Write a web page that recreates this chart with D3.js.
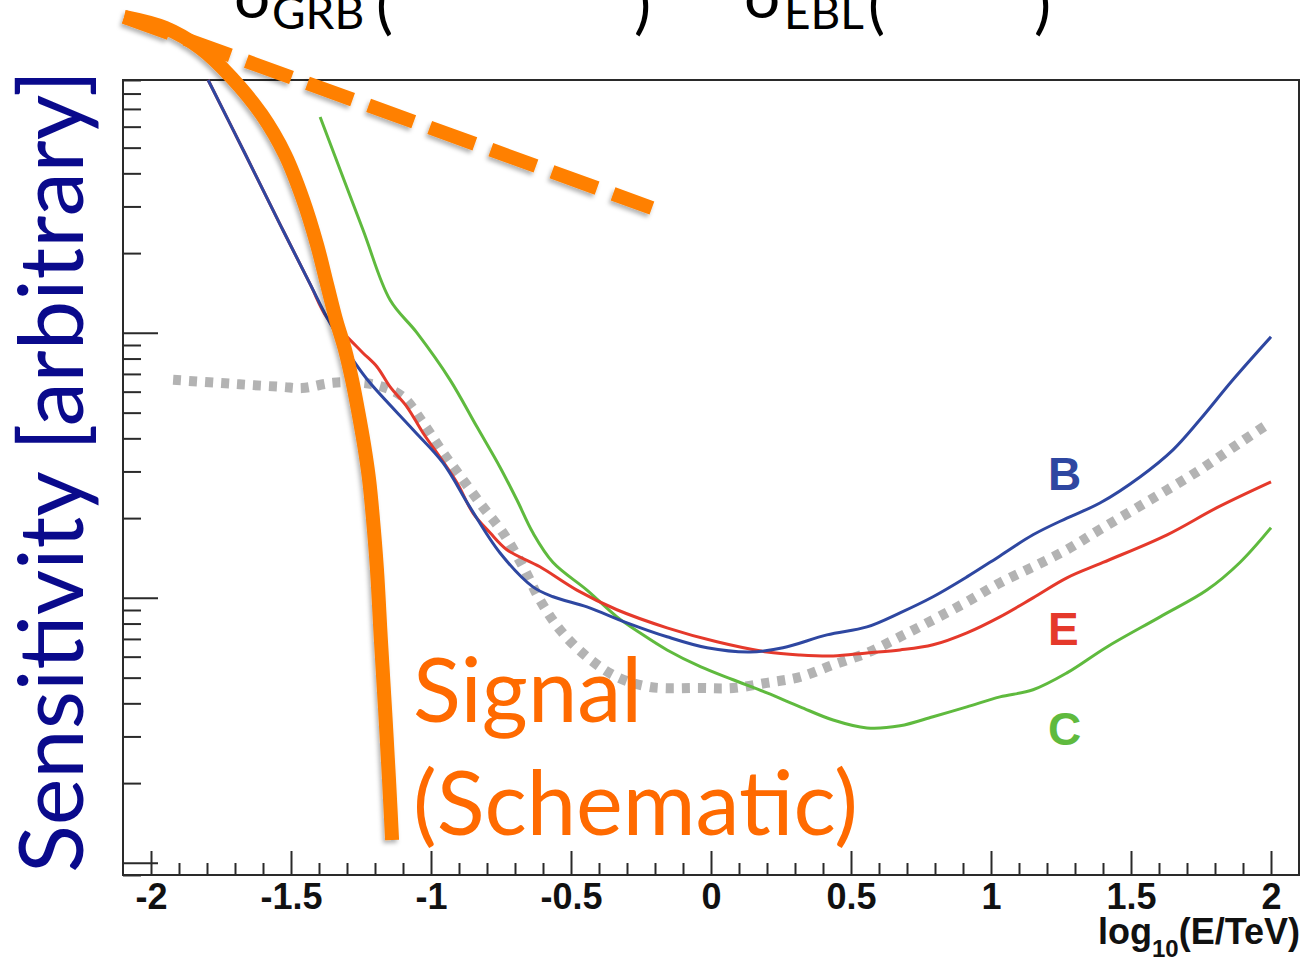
<!DOCTYPE html>
<html>
<head>
<meta charset="utf-8">
<script src="https://cdn.jsdelivr.net/npm/d3@7"></script>
<style>
  html, body { margin: 0; padding: 0; background: #fff; overflow: hidden; }
</style>
</head>
<body>
<svg id="chart" width="1304" height="960"></svg>
<script>
// x = log10(E/TeV), y = sensitivity (arbitrary units, log axis)
const xMajorTicks = [-2, -1.5, -1, -0.5, 0, 0.5, 1, 1.5, 2];
const xTickLabels = ["-2", "-1.5", "-1", "-0.5", "0", "0.5", "1", "1.5", "2"];
const yMajorTicks = [1, 10, 100];

const blueX = [-1.796, -1.664, -1.536, -1.432, -1.371, -1.325, -1.279, -1.218, -1.064, -0.957,
  -0.861, -0.754, -0.636, -0.564, -0.443, -0.300, -0.157, -0.014, 0.139, 0.257,
  0.414, 0.557, 0.675, 0.793, 0.914, 1.032, 1.150, 1.271, 1.389, 1.532,
  1.650, 1.746, 1.864, 2.000];
const blueY = [900, 474, 253, 153, 114, 94.1, 79.1, 64.8, 43.1, 32.3,
  22.0, 14.8, 11.0, 10.1, 9.25, 8.05, 7.13, 6.48, 6.25, 6.48,
  7.25, 7.77, 8.78, 10.1, 12.0, 14.4, 17.3, 20.0, 22.8, 28.6,
  36.2, 47.0, 66.5, 96.6];

const redX = [-1.796, -1.664, -1.536, -1.432, -1.371, -1.300, -1.243, -1.193, -1.146, -1.086,
  -1.029, -0.968, -0.907, -0.850, -0.789, -0.729, -0.611, -0.479, -0.336, -0.157,
  0.021, 0.200, 0.318, 0.436, 0.557, 0.675, 0.793, 0.914, 1.032, 1.150,
  1.271, 1.400, 1.629, 1.807, 2.000];
const redY = [900, 474, 253, 153, 114, 96.6, 84.0, 74.5, 62.5, 52.6,
  42.0, 34.0, 27.2, 20.9, 17.6, 15.2, 13.1, 10.7, 9.02, 7.71,
  6.83, 6.25, 6.09, 6.04, 6.20, 6.36, 6.65, 7.38, 8.48, 10.0,
  11.9, 13.6, 17.3, 21.9, 27.4];

const greenX = [-1.396, -1.243, -1.146, -1.050, -0.932, -0.836, -0.754, -0.693, -0.636, -0.564,
  -0.443, -0.336, -0.254, -0.157, -0.036, 0.079, 0.200, 0.318, 0.436, 0.557,
  0.675, 0.793, 0.914, 1.032, 1.150, 1.271, 1.414, 1.604, 1.771, 1.889, 2.000];
const greenY = [653, 245, 133, 100, 66.5, 44.2, 31.2, 23.4, 17.6, 13.6,
  10.7, 8.48, 7.38, 6.36, 5.49, 4.91, 4.38, 3.88, 3.46, 3.23,
  3.29, 3.56, 3.88, 4.23, 4.50, 5.21, 6.53, 8.48, 10.7, 13.6, 18.4];

const grayX = [-1.921, -1.764, -1.646, -1.529, -1.461, -1.350, -1.243, -1.171, -1.100, -1.029,
  -0.957, -0.886, -0.814, -0.743, -0.671, -0.611, -0.539, -0.443, -0.336, -0.218,
  -0.039, 0.079, 0.200, 0.318, 0.436, 0.557, 0.675, 0.793, 0.914, 1.032,
  1.150, 1.271, 1.389, 1.568, 1.746, 1.889, 1.996];
const grayY = [66.5, 64.8, 63.6, 62.5, 61.9, 64.8, 64.8, 62.5, 57.3, 45.8,
  35.3, 27.9, 22.0, 17.6, 13.1, 9.83, 7.57, 5.99, 5.03, 4.61,
  4.57, 4.57, 4.78, 5.03, 5.59, 6.20, 7.13, 8.26, 9.66, 11.4,
  13.1, 15.2, 18.1, 23.4, 30.4, 38.5, 45.8];

// schematic signal (solid) and EBL-limited signal (dashed)
const signalX = [-2.096, -1.950, -1.825, -1.711, -1.604, -1.521, -1.457, -1.407, -1.371, -1.339,
  -1.307, -1.282, -1.261, -1.239, -1.221, -1.207, -1.193, -1.179, -1.164, -1.150, -1.139];
const signalY = [1557, 1416, 1189, 916, 665, 470, 318, 215, 152, 112,
  86.3, 66.5, 51.2, 37.8, 27.9, 19.7, 12.8, 6.95, 3.78, 2.06, 1.22];
const eblX = [-2.096, -0.211];
const eblY = [1557, 296];

const seriesNames = ["B", "E", "C"];
const seriesLabelY = [25.6, 6.65, 2.79];

const frame = { left: 123, right: 1299, top: 80, bottom: 875 };

const svg = d3.select("#chart");

const x = d3.scaleLinear().domain([-2.1, 2.1]).range([frame.left, frame.right]);
const y = d3.scaleLog().domain([0.9, 900]).range([frame.bottom, frame.top]);

const zip = (xs, ys) => xs.map((v, i) => [v, ys[i]]);

const line = d3.line()
  .x(d => x(d[0]))
  .y(d => y(d[1]))
  .curve(d3.curveCatmullRom.alpha(0.5));

// drop shadow for the orange overlay
const defs = svg.append("defs");
defs.append("filter")
  .attr("id", "shadow")
  .attr("x", "-20%").attr("y", "-20%").attr("width", "140%").attr("height", "140%")
  .append("feDropShadow")
  .attr("dx", -2).attr("dy", 3).attr("stdDeviation", 2)
  .attr("flood-color", "#000").attr("flood-opacity", 0.3);

// header (cut off at the top of the slide)
const header = [
  { t: "σ", x: 234, y: 18, size: 64 },
  { t: "GRB", x: 272, y: 29, size: 46 },
  { t: "(", x: 376, y: 27, size: 64 },
  { t: ")", x: 634, y: 27, size: 64 },
  { t: "σ", x: 744, y: 18, size: 64 },
  { t: "EBL", x: 784, y: 29, size: 46 },
  { t: "(", x: 868, y: 27, size: 64 },
  { t: ")", x: 1034, y: 27, size: 64 }
];
svg.append("g")
  .selectAll("text")
  .data(header)
  .join("text")
  .attr("x", d => d.x)
  .attr("y", d => d.y)
  .attr("font-family", "Lato, 'Open Sans', sans-serif")
  .attr("font-size", d => d.size)
  .attr("fill", "#000")
  .text(d => d.t);

// frame
svg.append("rect")
  .attr("x", frame.left).attr("y", frame.top)
  .attr("width", frame.right - frame.left)
  .attr("height", frame.bottom - frame.top)
  .attr("fill", "none")
  .attr("stroke", "#2a2a2a")
  .attr("stroke-width", 2);

function styleAxis(g) {
  g.select(".domain").remove();
  g.selectAll(".tick line").attr("stroke", "#2a2a2a").attr("stroke-width", 2);
}

// x axis ticks (inside the frame)
const xMinor = d3.range(-20, 21).map(i => i / 10).filter(v => Math.round(v * 10) % 5 !== 0);
svg.append("g")
  .attr("transform", `translate(0,${frame.bottom})`)
  .call(d3.axisBottom(x).tickValues(xMinor).tickSizeInner(-12).tickSizeOuter(0).tickFormat(""))
  .call(styleAxis);

const xAxis = svg.append("g")
  .attr("transform", `translate(0,${frame.bottom})`)
  .call(d3.axisBottom(x).tickValues(xMajorTicks).tickSizeInner(-24).tickSizeOuter(0)
    .tickPadding(8).tickFormat((d, i) => xTickLabels[i]))
  .call(styleAxis);
xAxis.selectAll("text")
  .attr("font-family", "'Liberation Sans', Arial, Helvetica, sans-serif")
  .attr("font-weight", "bold")
  .attr("font-size", 36)
  .attr("fill", "#111");

// y axis ticks (log, inside the frame)
const yMinor = y.ticks().filter(v => !yMajorTicks.includes(v) && v <= 900);
svg.append("g")
  .attr("transform", `translate(${frame.left},0)`)
  .call(d3.axisRight(y).tickValues(yMinor).tickSizeInner(18).tickSizeOuter(0).tickFormat(""))
  .call(styleAxis);
svg.append("g")
  .attr("transform", `translate(${frame.left},0)`)
  .call(d3.axisRight(y).tickValues(yMajorTicks).tickSizeInner(35).tickSizeOuter(0).tickFormat(""))
  .call(styleAxis);

// x axis title
const xTitle = svg.append("text")
  .attr("x", 1300)
  .attr("y", 944)
  .attr("text-anchor", "end")
  .attr("font-family", "'Liberation Sans', Arial, Helvetica, sans-serif")
  .attr("font-weight", "bold")
  .attr("font-size", 36)
  .attr("fill", "#111");
xTitle.append("tspan").text("log");
xTitle.append("tspan").attr("font-size", 24).attr("dy", 13).text("10");
xTitle.append("tspan").attr("dy", -13).text("(E/TeV)");

// y axis title
const yTitle = svg.append("text")
  .attr("transform", "translate(83,873) rotate(-90)")
  .attr("font-family", "Lato, 'Open Sans', sans-serif")
  .attr("font-size", 86)
  .attr("fill", "#0a0a8c")
  .text("Sensitivity [arbitrary]");
const yLen = yTitle.node().getComputedTextLength();
yTitle.attr("font-size", 86 * 803 / yLen);

// instrument curves
const curves = [
  { name: "gray", data: zip(grayX, grayY), color: "#b3b3b3", width: 10, dash: "8,8" },
  { name: "C", data: zip(greenX, greenY), color: "#5fba3e", width: 3 },
  { name: "E", data: zip(redX, redY), color: "#e5392b", width: 3 },
  { name: "B", data: zip(blueX, blueY), color: "#2e47a1", width: 3 }
];
svg.append("g")
  .attr("fill", "none")
  .selectAll("path")
  .data(curves)
  .join("path")
  .attr("d", d => line(d.data))
  .attr("stroke", d => d.color)
  .attr("stroke-width", d => d.width)
  .attr("stroke-dasharray", d => d.dash || null)
  .attr("stroke-linejoin", "round");

// series labels
const labelColors = { B: "#2e47a1", E: "#e5392b", C: "#5fba3e" };
svg.append("g")
  .selectAll("text")
  .data(seriesNames)
  .join("text")
  .attr("x", x(1.0) + 57)
  .attr("y", (d, i) => y(seriesLabelY[i]))
  .attr("font-family", "'Liberation Sans', Arial, Helvetica, sans-serif")
  .attr("font-weight", "bold")
  .attr("font-size", 46)
  .attr("fill", d => labelColors[d])
  .text(d => d);

// orange schematic signal
const orange = svg.append("g")
  .attr("fill", "none")
  .attr("stroke", "#ff8000")
  .attr("stroke-width", 14)
  .attr("filter", "url(#shadow)");
orange.append("path")
  .attr("d", d3.line().x(d => x(d[0])).y(d => y(d[1]))(zip(eblX, eblY)))
  .attr("stroke-dasharray", "48,17");
orange.append("path")
  .attr("d", line(zip(signalX, signalY)));

// "Signal (Schematic)"
const sigText = svg.append("g")
  .attr("font-family", "Lato, 'Open Sans', sans-serif")
  .attr("fill", "#ff6a00");
const s1 = sigText.append("text").attr("x", 413).attr("y", 722).attr("font-size", 90).text("Signal");
const s2 = sigText.append("text").attr("x", 413).attr("y", 835).attr("font-size", 90).text("(Schematic)");
const sLen = s2.node().getComputedTextLength();
const sSize = 90 * 445 / sLen;
s1.attr("font-size", sSize);
s2.attr("font-size", sSize);
</script>
</body>
</html>
